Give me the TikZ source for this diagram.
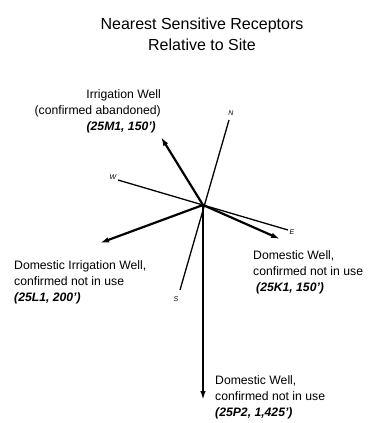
\documentclass[tikz,border=0pt]{standalone}
\usepackage{fontspec}
\setmainfont{Liberation Sans}
\usetikzlibrary{arrows.meta}
\begin{document}
\begin{tikzpicture}[x=1pt,y=-1pt,
  compass/.style={line width=1.3pt},
  recep/.style={line width=2.2pt,-{Latex[length=9pt,width=5.5pt]}},
  dirlabel/.style={font=\fontsize{7}{8}\selectfont\itshape,inner sep=0pt},
  lbl/.style={font=\fontsize{12.2}{16}\selectfont,inner sep=0pt},
  ttl/.style={font=\fontsize{16}{21}\selectfont,inner sep=0pt,align=center}]
\useasboundingbox (0,0) rectangle (376,423);
\node[ttl,anchor=north] (title) at (202,18) {Nearest Sensitive Receptors\\Relative to Site};
\coordinate (c) at (203,205);
\coordinate (n) at (229,120);
\coordinate (s) at (180,290);
\coordinate (w) at (118,180);
\coordinate (e) at (288,230);
\draw[compass] (n) -- (s);
\draw[compass] (w) -- (e);
\node[dirlabel] (nl) at (231,113) {N};
\node[dirlabel] (wl) at (113,177) {W};
\node[dirlabel] (el) at (292,232) {E};
\node[dirlabel] (sl) at (176,299) {S};
\coordinate (tnw) at (161,137);
\coordinate (tsw) at (100,243);
\coordinate (tse) at (280,239);
\coordinate (ts) at (203,400);
\draw[recep] (c) -- (tnw);
\draw[recep] (c) -- (tsw);
\draw[recep] (c) -- (tse);
\draw[recep] (c) -- (ts);
\node[lbl,align=right,anchor=north east] (lnw) at (161,89.5) {Irrigation Well\\(confirmed abandoned)\\\textbf{\textit{(25M1, 150')}}\hspace*{5pt}};
\node[lbl,align=left,anchor=north west] (lsw) at (14,260.5) {Domestic Irrigation Well,\\confirmed not in use\\\textbf{\textit{(25L1, 200')}}};
\node[lbl,align=left,anchor=north west] (lse) at (253,250.5) {Domestic Well,\\confirmed not in use\\\hspace*{3pt}\textbf{\textit{(25K1, 150')}}};
\node[lbl,align=left,anchor=north west] (ls) at (215,375.5) {Domestic Well,\\confirmed not in use\\\textbf{\textit{(25P2, 1,425')}}};
\end{tikzpicture}
\end{document}
